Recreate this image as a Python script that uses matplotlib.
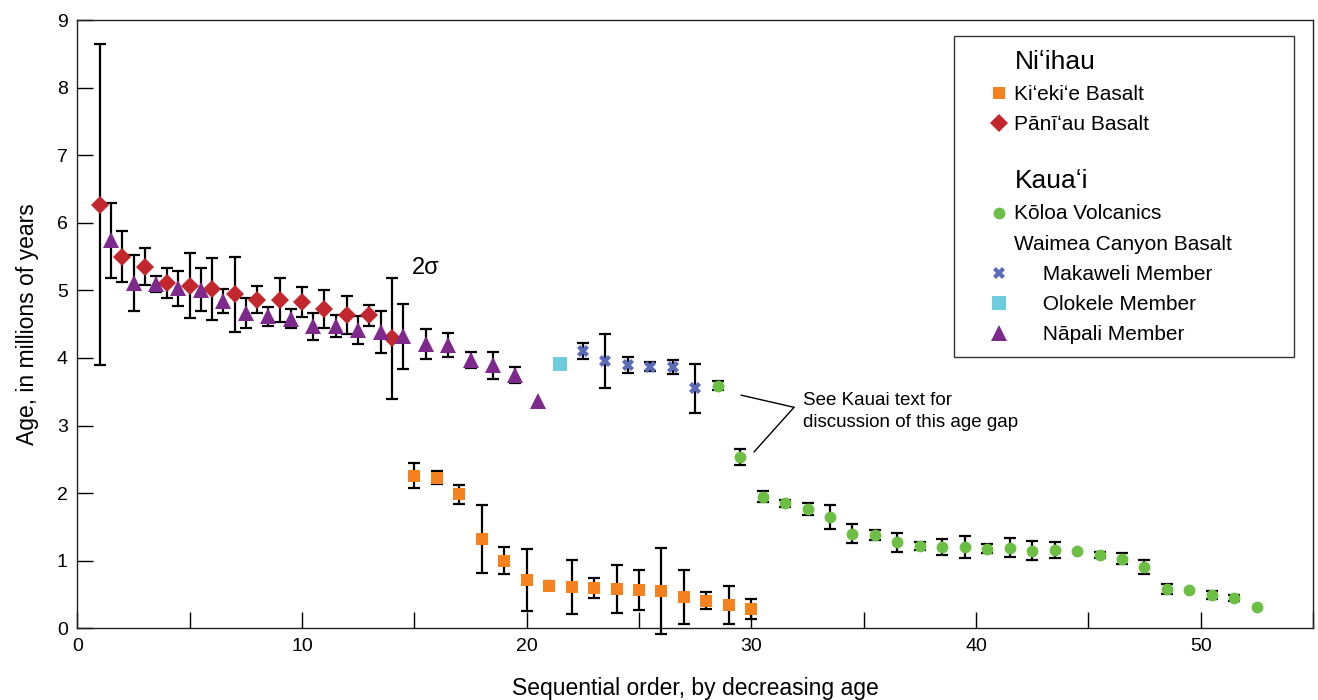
import numpy as np
import matplotlib
matplotlib.use("Agg")
from matplotlib import pyplot as plt
from matplotlib.lines import Line2D
from matplotlib.ticker import MultipleLocator

plt.rcParams['font.family'] = ['Liberation Sans', 'DejaVu Sans']

# Ni'ihau
pan_x = np.arange(1, 15)
pan_age = [6.27, 5.50, 5.35, 5.11, 5.07, 5.02, 4.94, 4.86, 4.86, 4.83, 4.73, 4.64, 4.63, 4.29]
pan_err = [2.38, 0.38, 0.27, 0.22, 0.48, 0.46, 0.56, 0.20, 0.33, 0.22, 0.28, 0.28, 0.16, 0.90]

kiek_x = np.arange(15, 31)
kiek_age = [2.26, 2.23, 1.98, 1.32, 1.00, 0.71, 0.63, 0.61, 0.60, 0.58, 0.57, 0.55, 0.46, 0.41, 0.34, 0.29]
kiek_err = [0.18, 0.10, 0.14, 0.50, 0.20, 0.46, 0.07, 0.40, 0.15, 0.36, 0.30, 0.64, 0.40, 0.12, 0.28, 0.15]

# Kaua'i
nap_x = np.arange(1, 21) + 0.5
nap_age = [5.74, 5.11, 5.10, 5.03, 5.01, 4.84, 4.66, 4.62, 4.58, 4.47,
           4.47, 4.41, 4.38, 4.32, 4.21, 4.19, 3.97, 3.89, 3.75, 3.37]
nap_err = [0.56, 0.41, 0.12, 0.26, 0.32, 0.18, 0.22, 0.14, 0.14, 0.20,
           0.16, 0.21, 0.31, 0.48, 0.22, 0.18, 0.12, 0.20, 0.12, 0]

olo_x = [21.5]
olo_age = [3.91]
olo_err = [0.08]

mak_x = np.arange(22, 28) + 0.5
mak_age = [4.10, 3.95, 3.90, 3.87, 3.87, 3.55]
mak_err = [0.12, 0.40, 0.12, 0.07, 0.10, 0.36]

kol_x = np.arange(28, 53) + 0.5
kol_age = [3.59, 2.53, 1.95, 1.85, 1.77, 1.65, 1.40, 1.38, 1.27, 1.22, 1.20, 1.20, 1.18,
           1.19, 1.15, 1.16, 1.15, 1.08, 1.03, 0.91, 0.58, 0.56, 0.49, 0.45, 0.31]
kol_err = [0.07, 0.12, 0.08, 0.05, 0.09, 0.18, 0.14, 0.08, 0.14, 0.06, 0.12, 0.16, 0.07,
           0.14, 0.14, 0.12, 0, 0.045, 0.08, 0.10, 0.07, 0, 0.06, 0.05, 0]

series = [
    (kiek_x, kiek_age, kiek_err, 's', '#F5821F', 9, u'Ki\u02bbeki\u02bbe Basalt'),
    (pan_x, pan_age, pan_err, 'D', '#C1272D', 9.5, u'P\u0101n\u012b\u02bbau Basalt'),
    (kol_x, kol_age, kol_err, 'o', '#6CBE45', 8.5, u'K\u014dloa Volcanics'),
    (mak_x, mak_age, mak_err, 'X', '#5B6BB8', 9, u'Makaweli Member'),
    (olo_x, olo_age, olo_err, 's', '#6DCCDD', 9.5, u'Olokele Member'),
    (nap_x, nap_age, nap_err, '^', '#7D2A8C', 11.5, u'N\u0101pali Member'),
]

fig = plt.figure(figsize=(13.18, 7.0), dpi=100)
ax = fig.add_axes([0.0587, 0.1024, 0.9375, 0.869])

handles = {}
for x, y, e, m, c, ms, lab in series:
    x = np.asarray(x, float)
    y = np.asarray(y, float)
    e = np.asarray(e, float)
    k = e > 0
    ax.errorbar(x[k], y[k], yerr=e[k], fmt='none', ecolor='black', elinewidth=1.6,
                capsize=4.5, capthick=1.6, zorder=2, clip_on=False)
    h, = ax.plot(x, y, linestyle='none', marker=m, color=c, markersize=ms,
                 markeredgewidth=0, zorder=3 if m != '^' else 4)
    handles[lab] = h

ax.set_xlim(0, 55)
ax.set_ylim(0, 9)
ax.xaxis.set_major_locator(MultipleLocator(10))
ax.xaxis.set_minor_locator(MultipleLocator(5))
ax.yaxis.set_major_locator(MultipleLocator(1))
ax.tick_params(which='both', direction='in', length=11.5, width=1, labelsize=14, pad=7,
               top=False, right=False)
for s in ax.spines.values():
    s.set_linewidth(1)
    s.set_color('#222222')

ax.set_xlabel('Sequential order, by decreasing age', fontsize=16.5, labelpad=16)
ax.set_ylabel('Age, in millions of years', fontsize=16.5, labelpad=13)

ax.text(14.9, 5.33, u'2\u03c3', fontsize=17, ha='left', va='center')

ax.annotate('', xy=(29.54, 3.45), xytext=(31.9, 3.27),
            arrowprops=dict(arrowstyle='-', lw=1, color='black', shrinkA=0, shrinkB=0))
ax.annotate('', xy=(30.12, 2.61), xytext=(31.9, 3.27),
            arrowprops=dict(arrowstyle='-', lw=1, color='black', shrinkA=0, shrinkB=0))
ax.text(32.3, 3.21, 'See Kauai text for\ndiscussion of this age gap', fontsize=13.5,
        ha='left', va='center', linespacing=1.4)

blank = Line2D([], [], linestyle='none')
leg_handles = [blank, handles[series[0][6]], handles[series[1][6]], blank,
               blank, handles[series[2][6]], blank,
               handles[series[3][6]], handles[series[4][6]], handles[series[5][6]]]
leg_labels = [u'Ni\u02bbihau', series[0][6], series[1][6], '',
              u'Kaua\u02bbi', series[2][6], 'Waimea Canyon Basalt',
              '     ' + series[3][6], '     ' + series[4][6], '     ' + series[5][6]]
leg = ax.legend(leg_handles, leg_labels, loc='upper left', mode='expand',
                bbox_to_anchor=(0.7095, 0.5, 0.2751, 0.4737), borderaxespad=0,
                fontsize=15, frameon=True, fancybox=False, edgecolor='#333333',
                framealpha=1, borderpad=0.65, handlelength=3.0, handletextpad=-0.75,
                labelspacing=0.53, numpoints=1, handleheight=0.4)
leg.get_frame().set_linewidth(1)
texts = leg.get_texts()
texts[0].set_fontsize(19)
texts[4].set_fontsize(19)
texts[3].set_fontsize(4)

fig.savefig('out.png', dpi=100)
